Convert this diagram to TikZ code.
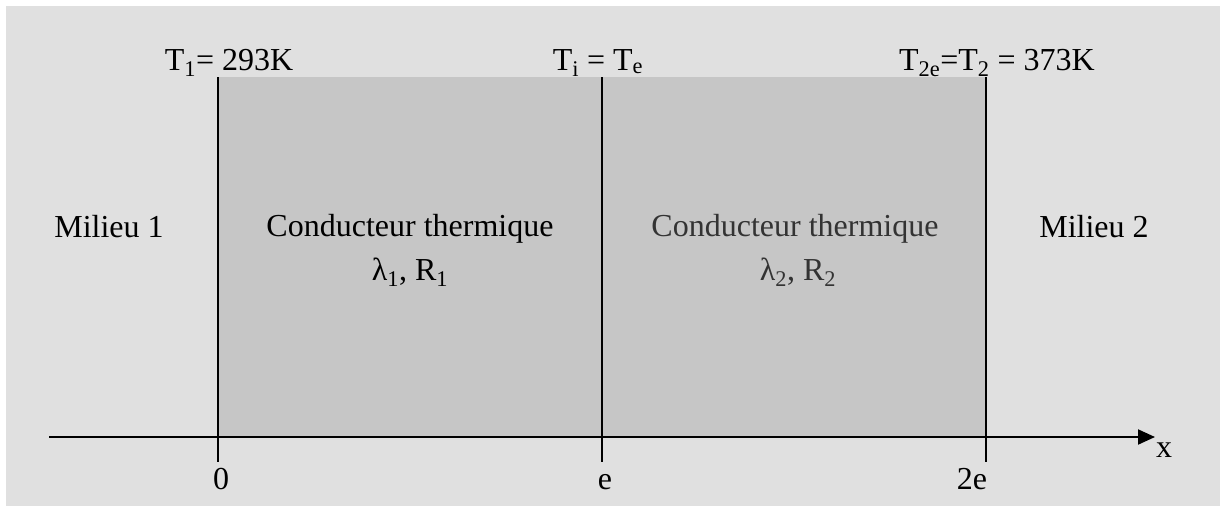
\documentclass[tikz,border=0pt]{standalone}
\usepackage{fontspec}
\setmainfont{Liberation Serif}
\usetikzlibrary{arrows.meta}
\definecolor{bg}{HTML}{E0E0E0}
\definecolor{fillgray}{HTML}{C6C6C6}
\begin{document}
\begin{tikzpicture}[x=1pt,y=-1pt,
  lbl/.style={anchor=base,inner sep=0pt,font=\fontsize{32}{36}\selectfont},
  wall/.style={line width=2pt,black},
  axis/.style={line width=2pt,black,-{Triangle[length=17pt,width=15pt]}}]
\useasboundingbox (0,0) rectangle (1220,506);
\fill[white] (0,0) rectangle (1220,506);
\fill[bg] (6,6) rectangle (1220,506);
% coordinates
\coordinate (A0) at (218,77);
\coordinate (B0) at (218,437);
\coordinate (T0) at (218,462);
\coordinate (A1) at (602,77);
\coordinate (T1) at (602,462);
\coordinate (A2) at (986,77);
\coordinate (B2) at (986,437);
\coordinate (T2) at (986,462);
\coordinate (xs) at (49,437);
\coordinate (xe) at (1155,437);
\fill[fillgray] (A0) rectangle (B2);
\draw[wall] (A0) -- (T0);
\draw[wall] (A1) -- (T1);
\draw[wall] (A2) -- (T2);
\draw[axis] (xs) -- (xe);
% labels
\node[lbl] (t1) at (229,70) {T\textsubscript{1}= 293K};
\node[lbl] (ti) at (598,70) {T\textsubscript{i} = T\textsubscript{e}};
\node[lbl] (t2) at (997,70) {T\textsubscript{2e}=T\textsubscript{2} = 373K};
\node[lbl] (m1) at (109,237) {Milieu 1};
\node[lbl] (m2) at (1094,237) {Milieu 2};
\node[lbl] (c1) at (410,236) {Conducteur thermique};
\node[lbl] (p1) at (410,280) {λ\textsubscript{1}, R\textsubscript{1}};
\node[lbl,text=black!80] (c2) at (795,236) {Conducteur thermique};
\node[lbl,text=black!80] (p2) at (798,280) {λ\textsubscript{2}, R\textsubscript{2}};
\node[lbl] (l0) at (221,489) {0};
\node[lbl] (le) at (605,489) {e};
\node[lbl] (l2e) at (972,489) {2e};
\node[lbl] (lx) at (1164,457) {x};
\end{tikzpicture}
\end{document}
